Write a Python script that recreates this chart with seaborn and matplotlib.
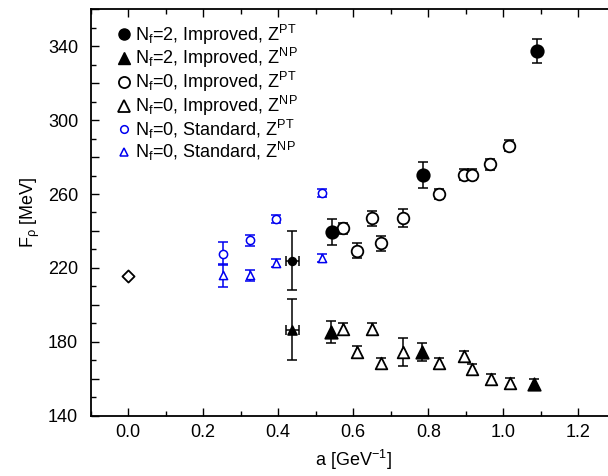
import numpy as np
import pandas as pd
import matplotlib
matplotlib.use("Agg")
import matplotlib.pyplot as plt
from matplotlib.lines import Line2D
from matplotlib.ticker import MultipleLocator, FuncFormatter
import seaborn as sns

# Nf=2, improved, Z^PT (filled circles)
nf2_pt_a = [0.544, 0.787, 1.089]
nf2_pt_f = [239.3, 270.4, 337.5]
nf2_pt_err = [7.0, 7.0, 6.5]
# Nf=2, improved, Z^NP (filled triangles)
nf2_np_a = [0.540, 0.782, 1.083]
nf2_np_f = [185.3, 174.5, 157.1]
nf2_np_err = [6.0, 5.0, 3.0]
# Nf=2 chiral/extrapolated points (small filled, with x error)
nf2_x_a = [0.438, 0.438]
nf2_x_f = [223.9, 186.6]
nf2_x_err = [16.0, 16.6]
nf2_x_aerr = [0.018, 0.018]
# Nf=0, improved, Z^PT (open circles)
nf0_pt_a = [0.573, 0.611, 0.649, 0.673, 0.733, 0.829, 0.896, 0.916, 0.965, 1.016]
nf0_pt_f = [241.5, 229.4, 246.9, 233.4, 247.1, 260.0, 270.4, 270.4, 276.2, 286.1]
nf0_pt_err = [3, 4, 4, 4, 5, 2.5, 3, 3, 3, 3]
# Nf=0, improved, Z^NP (open triangles)
nf0_np_a = [0.572, 0.611, 0.649, 0.673, 0.733, 0.829, 0.895, 0.917, 0.966, 1.018]
nf0_np_f = [187.2, 174.5, 187.2, 168.3, 174.5, 168.6, 172.2, 165.2, 159.8, 157.5]
nf0_np_err = [3, 3, 3, 3, 7.7, 2.5, 3, 3, 3, 3]
# Nf=0, standard (blue)
std_a = [0.252, 0.324, 0.393, 0.516]
std_pt_f = [227.8, 235.0, 246.5, 260.6]
std_pt_err = [6, 3, 2, 2]
std_np_f = [215.9, 216.0, 222.6, 225.3]
std_np_err = [6, 3, 2, 2]
# experimental value
exp_a = [0.0]
exp_f = [215.5]

sns.set_style("ticks")
plt.rcParams['font.family'] = ['Liberation Sans', 'DejaVu Sans']
plt.rcParams['mathtext.fontset'] = 'custom'
plt.rcParams['mathtext.rm'] = 'Liberation Sans'
plt.rcParams['mathtext.it'] = 'Liberation Sans'
plt.rcParams['text.color'] = 'black'
plt.rcParams['axes.labelcolor'] = 'black'

fig = plt.figure(figsize=(6.08, 4.76), dpi=100)
ax = fig.add_axes([90.7 / 608, 1 - 415.7 / 476, (615.8 - 90.7) / 608, (415.7 - 9.3) / 476])

blue = '#0000f0'
cap = 3.6

def series(a, f, err, marker, size, face, edge, lw=1.3, aerr=None):
    ax.errorbar(a, f, yerr=err, xerr=aerr, fmt='none', ecolor=edge,
                elinewidth=1.1, capsize=cap, capthick=1.1, zorder=2)
    df = pd.DataFrame({'a': a, 'f': f})
    sns.scatterplot(data=df, x='a', y='f', ax=ax, marker=marker, s=size,
                    color=face, edgecolor=edge, linewidth=lw, zorder=3, legend=False)

series(nf0_pt_a, nf0_pt_f, nf0_pt_err, 'o', 70, 'white', 'black')
series(nf0_np_a, nf0_np_f, nf0_np_err, '^', 70, 'white', 'black')
series(nf2_pt_a, nf2_pt_f, nf2_pt_err, 'o', 80, 'black', 'black')
series(nf2_np_a, nf2_np_f, nf2_np_err, '^', 80, 'black', 'black')
series(nf2_x_a[:1], nf2_x_f[:1], nf2_x_err[:1], 'o', 30, 'black', 'black', aerr=nf2_x_aerr[:1])
series(nf2_x_a[1:], nf2_x_f[1:], nf2_x_err[1:], '^', 40, 'black', 'black', aerr=nf2_x_aerr[1:])
series(std_a, std_pt_f, std_pt_err, 'o', 35, 'white', blue, lw=1.1)
series(std_a, std_np_f, std_np_err, '^', 35, 'white', blue, lw=1.1)
sns.scatterplot(x=exp_a, y=exp_f, ax=ax, marker='D', s=38, color='white',
                edgecolor='black', linewidth=1.3, zorder=3, legend=False)

ax.set_xlim(-0.1, 1.3)
ax.set_ylim(140, 360)
ax.xaxis.set_major_locator(MultipleLocator(0.2))
ax.xaxis.set_minor_locator(MultipleLocator(0.1))
ax.yaxis.set_major_locator(MultipleLocator(20))
ax.yaxis.set_minor_locator(MultipleLocator(10))
ax.xaxis.set_major_formatter(FuncFormatter(lambda v, p: f"{v:.1f}"))
ax.yaxis.set_major_formatter(FuncFormatter(lambda v, p: f"{int(round(v))}" if round(v) % 40 == 20 else ""))
ax.tick_params(which='both', direction='in', top=True, right=True, width=1.0, colors='black', labelsize=13)
ax.tick_params(which='major', length=6)
ax.tick_params(which='minor', length=3.5)
ax.tick_params(axis='x', pad=6)
ax.tick_params(axis='y', pad=9)
for s in ax.spines.values():
    s.set_linewidth(1.3)
    s.set_color('black')

ax.set_xlabel(r'a [GeV$^{-1}$]', fontsize=13, labelpad=5)
ax.set_ylabel(r'F$_{\rho}$ [MeV]', fontsize=13, labelpad=4)

handles = [
    Line2D([], [], ls='none', marker='o', ms=8, mfc='black', mec='black'),
    Line2D([], [], ls='none', marker='^', ms=8, mfc='black', mec='black'),
    Line2D([], [], ls='none', marker='o', ms=8, mfc='white', mec='black', mew=1.3),
    Line2D([], [], ls='none', marker='^', ms=8, mfc='white', mec='black', mew=1.3),
    Line2D([], [], ls='none', marker='o', ms=5.5, mfc='white', mec=blue, mew=1.1),
    Line2D([], [], ls='none', marker='^', ms=5.5, mfc='white', mec=blue, mew=1.1),
]
labels = [
    r'N$_f$=2, Improved, Z$^{PT}$',
    r'N$_f$=2, Improved, Z$^{NP}$',
    r'N$_f$=0, Improved, Z$^{PT}$',
    r'N$_f$=0, Improved, Z$^{NP}$',
    r'N$_f$=0, Standard, Z$^{PT}$',
    r'N$_f$=0, Standard, Z$^{NP}$',
]
ax.legend(handles, labels, loc='upper left', bbox_to_anchor=(0.035, 0.985), frameon=False,
          fontsize=13, handlelength=0.8, handletextpad=0.25, labelspacing=-0.02, borderaxespad=0)

fig.savefig('out.png', dpi=100)
